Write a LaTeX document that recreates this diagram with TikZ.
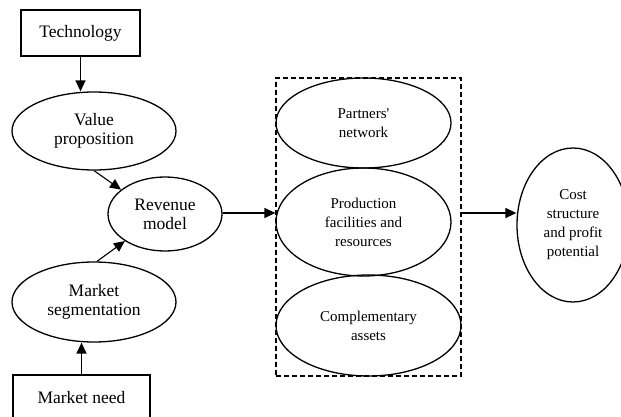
\documentclass[tikz,border=0pt]{standalone}
\usepackage{fontspec}
\setmainfont{Liberation Serif}
\usetikzlibrary{shapes.geometric,arrows.meta}
\begin{document}
\begin{tikzpicture}[x=1pt,y=-1pt,
  base/.style={draw=black,line width=1.3pt,inner sep=0pt,align=center},
  bigtext/.style={font=\fontsize{17.5}{19}\selectfont},
  smalltext/.style={font=\fontsize{15}{19}\selectfont},
  sqbox/.style={base,rectangle,bigtext},
  lefte/.style={base,ellipse,bigtext},
  righte/.style={base,ellipse,smalltext},
  group/.style={draw=black,line width=1.2pt,dash pattern=on 5pt off 3pt,rectangle,inner sep=0pt},
  link/.style={line width=1.4pt,-{Triangle[length=11pt,width=10pt]}},
  thinlink/.style={line width=1.1pt,-{Triangle[length=11pt,width=10pt]}}]
\useasboundingbox (0,0) rectangle (621,417);

% left column
\node[sqbox,minimum width=119pt,minimum height=46pt] (tech) at (80.5,33) {Technology};
\node[lefte,minimum width=164pt,minimum height=78pt] (vp) at (94,131) {Value\\proposition};
\node[lefte,minimum width=114pt,minimum height=74pt] (rev) at (165,214) {Revenue\\model};
\node[lefte,minimum width=164pt,minimum height=80pt] (ms) at (94,302) {Market\\segmentation};
\node[sqbox,minimum width=137pt,minimum height=46pt] (need) at (81.5,398) {Market need};

% grouped resources
\node[group,minimum width=185pt,minimum height=298pt] (grp) at (368.5,227) {};
\node[righte,minimum width=175pt,minimum height=90pt] (part) at (363.5,123) {Partners\textquotesingle\\network};
\node[righte,minimum width=175pt,minimum height=108pt] (prod) at (363.5,222) {Production\\facilities and\\resources};
\node[righte,minimum width=185pt,minimum height=101pt] (comp) at (368.5,325.5) {Complementary\\assets};

% outcome
\node[righte,minimum width=112pt,minimum height=154pt] (cost) at (573,225) {Cost\\structure\\and profit\\potential};

% connectors
\draw[link] (tech.south) -- (tech.south |- vp.north);
\draw[link] (need.north) -- (need.north |- ms.south);
\draw[thinlink] (vp.south) -- (rev.151);
\draw[thinlink] ([xshift=3pt]ms.north) -- (rev.214);
\draw[link] ([yshift=1pt]rev.east) -- ([yshift=1pt]rev.east -| grp.west);
\draw[link] ([yshift=1pt]rev.east -| grp.east) -- ([yshift=1pt]rev.east -| cost.west);
\end{tikzpicture}
\end{document}
